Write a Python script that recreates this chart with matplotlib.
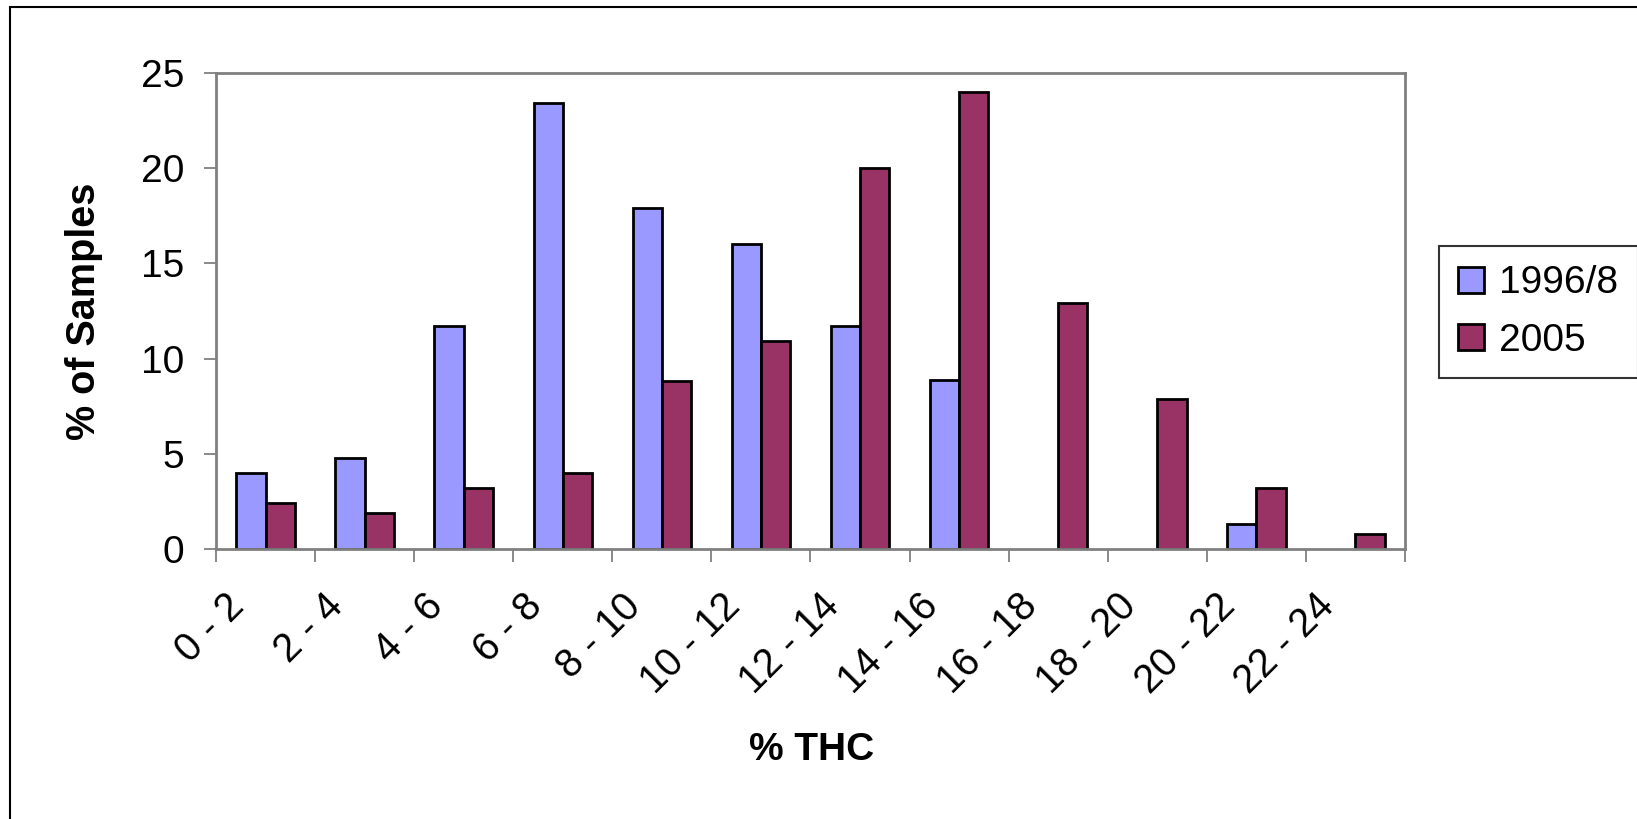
import matplotlib.pyplot as plt
import matplotlib.transforms as mtransforms
import numpy as np
from matplotlib.patches import Rectangle

plt.rcParams['font.family'] = ['Liberation Sans', 'DejaVu Sans']

categories = ['0 - 2', '2 - 4', '4 - 6', '6 - 8', '8 - 10', '10 - 12',
              '12 - 14', '14 - 16', '16 - 18', '18 - 20', '20 - 22', '22 - 24']
series_1996 = [4.0, 4.8, 11.7, 23.4, 17.9, 16.0, 11.7, 8.9, 0, 0, 1.3, 0]
series_2005 = [2.4, 1.9, 3.2, 4.0, 8.8, 10.9, 20.0, 24.0, 12.9, 7.9, 3.2, 0.8]
labels = ['1996/8', '2005']
colors = ['#9999FF', '#993366']

fig = plt.figure(figsize=(16.37, 8.19), dpi=100)
ax = fig.add_axes([216/1637, 1-549/819, (1405-216)/1637, (549-73)/819])

x = np.arange(len(categories))
w = 0.295
# zero values are not drawn in the original
v1 = np.array(series_1996, dtype=float)
v2 = np.array(series_2005, dtype=float)
ax.bar(x[v1 > 0] - w/2, v1[v1 > 0], w, color=colors[0], edgecolor='black', linewidth=2, label=labels[0])
ax.bar(x[v2 > 0] + w/2, v2[v2 > 0], w, color=colors[1], edgecolor='black', linewidth=2, label=labels[1])

ax.set_xlim(-0.5, len(categories) - 0.5)
ax.set_ylim(0, 25)
ax.set_yticks([0, 5, 10, 15, 20, 25])
ax.set_xticks(x)
ax.set_xticklabels(categories, rotation=45, ha='right', va='center', rotation_mode='anchor')
ax.set_xticks(np.arange(len(categories) + 1) - 0.5, minor=True)
ax.tick_params(axis='x', which='major', length=0, pad=37, labelsize=28.5)
ax.tick_params(axis='x', which='minor', length=9, width=1.3, color='#808080')
ax.tick_params(axis='y', length=9, width=1.3, color='#808080', pad=14, labelsize=28)

shift = mtransforms.ScaledTranslation(-0.27, 0, fig.dpi_scale_trans)
for t in ax.get_xticklabels():
    t.set_transform(t.get_transform() + shift)

for s in ax.spines.values():
    s.set_color('#808080')
    s.set_linewidth(2)

fig.text(84/1637, 1-311/819, '% of Samples', rotation=90, ha='center', va='center',
         fontsize=28.5, fontweight='bold')
fig.text(812/1637, 1-750/819, '% THC', ha='center', va='center', fontsize=28, fontweight='bold')

leg = fig.legend(loc='upper left', bbox_to_anchor=(1439/1637, 1-246/819), fontsize=28,
                 frameon=True, fancybox=False, edgecolor='black', borderaxespad=0,
                 handlelength=0.65, handleheight=0.65, handletextpad=0.4,
                 borderpad=0.5, labelspacing=0.55)
leg.get_frame().set_linewidth(1.5)

# outer chart frame (cropped at right and bottom)
fig.add_artist(Rectangle((10/1637, -0.1), 1.2, 1-7/819 + 0.1, transform=fig.transFigure,
                         fill=False, edgecolor='black', linewidth=1.5))

fig.savefig('out.png', dpi=100)
